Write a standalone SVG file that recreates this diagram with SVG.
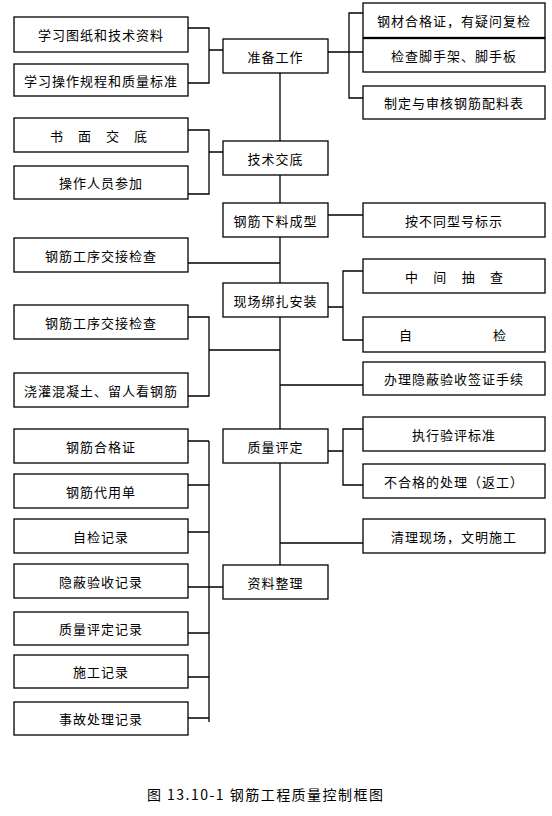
<svg xmlns="http://www.w3.org/2000/svg" width="552" height="816" viewBox="0 0 552 816">
<style>
rect{fill:#fff;stroke:#000;stroke-width:1.3}
text{font-family:"Noto Sans CJK SC","Liberation Sans",sans-serif;font-size:13px;letter-spacing:1px;text-anchor:middle;dominant-baseline:central;fill:#000}
.c path,.c line{stroke:#000;stroke-width:1.3;fill:none}
.sp{letter-spacing:0}
.cap{font-size:14px;text-anchor:start;letter-spacing:0}
</style>
<rect x="0" y="0" width="552" height="816" style="stroke:none"/>
<g class="c" id="connectors">
<path d="M280,73V141M280,175V203M280,237V283M280,317V429M280,463V565"/>
<path d="M188,28H209V83H188M209,50H223"/>
<path d="M363,13H349V98H363M328,52H363"/>
<path d="M188,130H209V194H188M209,152H223"/>
<path d="M328,215H363"/>
<path d="M188,263H280"/>
<path d="M363,271H343V340H363M328,307H343"/>
<path d="M188,317H209V396H188M209,350H280"/>
<path d="M280,385H363"/>
<path d="M363,429H343V485H363M328,451H343"/>
<path d="M280,543H363"/>
<path d="M209,441V722M188,441H209M188,485H209M188,532H209M188,587H223M188,633H209M188,677H209M188,718H209"/>
</g>
<g id="L1"><rect x="14" y="17" width="174" height="35"/><text x="101" y="34.5">学习图纸和技术资料</text></g>
<g id="L2"><rect x="14" y="64" width="174" height="32"/><text x="101" y="80">学习操作规程和质量标准</text></g>
<g id="L3"><rect x="14" y="118" width="174" height="34"/><text x="50" y="135" class="sp" style="text-anchor:start" textLength="97" lengthAdjust="spacing">书 面 交 底</text></g>
<g id="L4"><rect x="14" y="166" width="174" height="33"/><text x="101" y="182.5">操作人员参加</text></g>
<g id="L5"><rect x="14" y="238" width="174" height="34"/><text x="101" y="255">钢筋工序交接检查</text></g>
<g id="L6"><rect x="14" y="305" width="174" height="34"/><text x="101" y="322">钢筋工序交接检查</text></g>
<g id="L7"><rect x="14" y="373" width="174" height="34"/><text x="101" y="390">浇灌混凝土、留人看钢筋</text></g>
<g id="L8"><rect x="14" y="429" width="174" height="34"/><text x="101" y="446">钢筋合格证</text></g>
<g id="L9"><rect x="14" y="474" width="174" height="34"/><text x="101" y="491">钢筋代用单</text></g>
<g id="L10"><rect x="14" y="519" width="174" height="34"/><text x="101" y="536">自检记录</text></g>
<g id="L11"><rect x="14" y="564" width="174" height="34"/><text x="101" y="581">隐蔽验收记录</text></g>
<g id="L12"><rect x="14" y="612" width="174" height="33"/><text x="101" y="628.5">质量评定记录</text></g>
<g id="L13"><rect x="14" y="655" width="174" height="33"/><text x="101" y="671.5">施工记录</text></g>
<g id="L14"><rect x="14" y="702" width="174" height="33"/><text x="101" y="718.5">事故处理记录</text></g>
<g id="C1"><rect x="223" y="39" width="105" height="34"/><text x="275.5" y="56">准备工作</text></g>
<g id="C2"><rect x="223" y="141" width="105" height="34"/><text x="275.5" y="158">技术交底</text></g>
<g id="C3"><rect x="223" y="203" width="105" height="34"/><text x="275.5" y="220">钢筋下料成型</text></g>
<g id="C4"><rect x="223" y="283" width="105" height="34"/><text x="275.5" y="300">现场绑扎安装</text></g>
<g id="C5"><rect x="223" y="429" width="105" height="34"/><text x="275.5" y="446">质量评定</text></g>
<g id="C6"><rect x="223" y="565" width="105" height="34"/><text x="275.5" y="582">资料整理</text></g>
<g id="R1"><rect x="363" y="3" width="182" height="34.5"/><text x="454" y="20">钢材合格证，有疑问复检</text></g>
<g id="R2"><rect x="363" y="38.5" width="182" height="33.5"/><text x="454" y="55">检查脚手架、脚手板</text></g>
<g id="R3"><rect x="363" y="86" width="182" height="33"/><text x="454" y="102.5">制定与审核钢筋配料表</text></g>
<g id="R4"><rect x="363" y="203" width="182" height="34"/><text x="454" y="220">按不同型号标示</text></g>
<g id="R5"><rect x="363" y="259" width="182" height="34"/><text x="405" y="276" class="sp" style="text-anchor:start" textLength="98" lengthAdjust="spacing">中 间 抽 查</text></g>
<g id="R6"><rect x="363" y="317" width="182" height="35"/><text x="399" y="334.5" class="sp" style="text-anchor:start" textLength="107" lengthAdjust="spacing">自 检</text></g>
<g id="R7"><rect x="363" y="362" width="182" height="33"/><text x="454" y="378.5">办理隐蔽验收签证手续</text></g>
<g id="R8"><rect x="363" y="417" width="182" height="34"/><text x="454" y="434">执行验评标准</text></g>
<g id="R9"><rect x="363" y="464" width="182" height="34"/><text x="454" y="481">不合格的处理（返工）</text></g>
<g id="R10"><rect x="363" y="519" width="182" height="34"/><text x="454" y="536">清理现场，文明施工</text></g>
<text class="cap" x="147" y="794" textLength="236" lengthAdjust="spacing">图 13.10-1 钢筋工程质量控制框图</text>
</svg>
